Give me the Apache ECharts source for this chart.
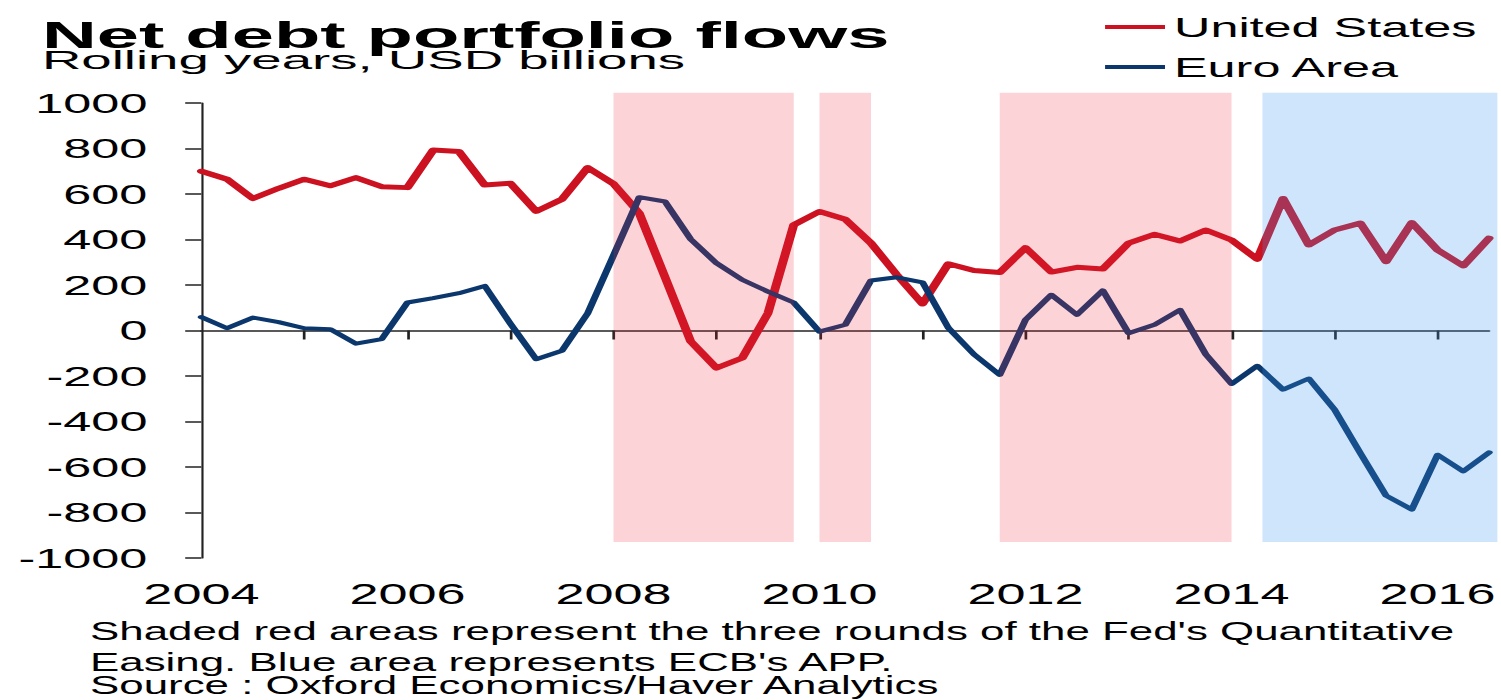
<!DOCTYPE html>
<html>
<head>
<meta charset="utf-8">
<title>Net debt portfolio flows</title>
<script src="https://cdn.jsdelivr.net/npm/echarts@6/dist/echarts.min.js"></script>
<style>
  html, body { margin: 0; padding: 0; background: #ffffff; }
  #frame { width: 1501px; height: 700px; overflow: hidden; }
  /* the chart is laid out on a narrower canvas and widened horizontally */
  #chart { width: 834px; height: 700px; transform: scaleX(1.7998); transform-origin: 0 0; }
</style>
</head>
<body>
<div id="frame"><div id="chart"></div></div>
<script>
// Quarterly observations, rolling four-quarter sums (USD billions)
const quarters = [
  '2004Q1','2004Q2','2004Q3','2004Q4','2005Q1','2005Q2','2005Q3','2005Q4',
  '2006Q1','2006Q2','2006Q3','2006Q4','2007Q1','2007Q2','2007Q3','2007Q4',
  '2008Q1','2008Q2','2008Q3','2008Q4','2009Q1','2009Q2','2009Q3','2009Q4',
  '2010Q1','2010Q2','2010Q3','2010Q4','2011Q1','2011Q2','2011Q3','2011Q4',
  '2012Q1','2012Q2','2012Q3','2012Q4','2013Q1','2013Q2','2013Q3','2013Q4',
  '2014Q1','2014Q2','2014Q3','2014Q4','2015Q1','2015Q2','2015Q3','2015Q4',
  '2016Q1','2016Q2','2016Q3'
];

const unitedStates = [
  700, 665, 580, 625, 665, 636, 672, 632,
  628, 793, 787, 640, 647, 524, 577, 716,
  645, 516, 235, -48, -165, -121, 76, 464,
  523, 489, 384, 245, 117, 293, 264, 255,
  364, 257, 278, 270, 384, 423, 393, 442,
  398, 313, 580, 376, 442, 472, 303, 474,
  354, 284, 406
];

const euroArea = [
  59, 10, 57, 37, 10, 6, -58, -38,
  123, 142, 164, 196, 30, -126, -89, 76,
  330, 586, 567, 401, 296, 223, 171, 123,
  -5, 25, 220, 234, 212, 12, -105, -195,
  47, 157, 69, 176, -12, 25, 91, -105,
  -235, -155, -260, -211, -348, -539, -726, -787,
  -546, -619, -536
];

// Policy periods, in fractional years: Fed QE rounds and the ECB asset purchase programme
const qeRounds = [[2008.0, 2009.75], [2010.0, 2010.5], [2011.75, 2014.0]];
const appPeriod = [[2014.3, 2016.58]];

const yearLabels = [2004, 2006, 2008, 2010, 2012, 2014, 2016];
const yearTicks = [2005, 2006, 2007, 2008, 2009, 2010, 2011, 2012, 2013, 2014, 2015, 2016];

const FONT = '"Liberation Sans", Arial, Helvetica, sans-serif';
const SHADE_TOP = 1045;
const SHADE_BOTTOM = -930;

const toYear = q => Number(q.slice(0, 4)) + (Number(q.slice(5)) - 1) / 4;
const pairUp = values => quarters.map((q, i) => [toYear(q), values[i]]);

function shadeRenderer(fill) {
  return function (params, api) {
    const a = api.coord([api.value(0), SHADE_TOP]);
    const b = api.coord([api.value(1), SHADE_BOTTOM]);
    return {
      type: 'rect',
      shape: { x: a[0], y: a[1], width: b[0] - a[0], height: b[1] - a[1] },
      style: { fill: fill }
    };
  };
}

const chart = echarts.init(document.getElementById('chart'), null, { renderer: 'svg' });

chart.setOption({
  animation: false,
  backgroundColor: '#ffffff',
  textStyle: { fontFamily: FONT },
  grid: { left: 111.9, right: 6.2, top: 103, bottom: 142, containLabel: false },
  legend: {
    data: ['United States', 'Euro Area'],
    orient: 'vertical',
    left: 614,
    top: 12,
    padding: 0,
    icon: 'rect',
    itemWidth: 33.3,
    itemHeight: 4,
    itemGap: 10,
    selectedMode: false,
    textStyle: { fontFamily: FONT, fontSize: 28, color: '#000', lineHeight: 30 }
  },
  graphic: [
    {
      type: 'text', x: 23.3, y: 35.5, scaleX: 1.14,
      style: { text: 'Net debt portfolio flows', fontFamily: FONT, fontSize: 37,
               fontWeight: 'bold', fill: '#000', align: 'left', verticalAlign: 'middle' }
    },
    {
      type: 'text', x: 23.3, y: 60, scaleX: 1.145,
      style: { text: 'Rolling years, USD billions', fontFamily: FONT, fontSize: 26.5,
               fill: '#000', align: 'left', verticalAlign: 'middle' }
    },
    {
      type: 'text', x: 50, y: 631, scaleX: 0.92,
      style: { text: "Shaded red areas represent the three rounds of the Fed's Quantitative",
               fontFamily: FONT, fontSize: 26.5, fill: '#000', align: 'left', verticalAlign: 'middle' }
    },
    {
      type: 'text', x: 50, y: 662, scaleX: 0.92,
      style: { text: "Easing. Blue area represents ECB's APP.",
               fontFamily: FONT, fontSize: 26.5, fill: '#000', align: 'left', verticalAlign: 'middle' }
    },
    {
      type: 'text', x: 50, y: 684.5, scaleX: 0.92,
      style: { text: 'Source : Oxford Economics/Haver Analytics',
               fontFamily: FONT, fontSize: 26.5, fill: '#000', align: 'left', verticalAlign: 'middle' }
    }
  ],
  xAxis: [
    {
      // year labels along the bottom of the plot
      type: 'value', min: 2004, max: 2016.5, position: 'bottom',
      axisLine: { show: false, onZero: false },
      axisTick: { show: false },
      splitLine: { show: false },
      axisLabel: {
        customValues: yearLabels,
        formatter: v => String(v),
        fontFamily: FONT, fontSize: 29, color: '#000', margin: 22
      }
    },
    {
      // axis line and yearly ticks drawn through zero
      type: 'value', min: 2004, max: 2016.5, position: 'bottom',
      axisLine: { show: true, onZero: true, lineStyle: { color: '#222', width: 1.5 } },
      axisTick: { show: true, customValues: yearTicks, length: 9, inside: false,
                  lineStyle: { color: '#222', width: 1.5 } },
      axisLabel: { show: false },
      splitLine: { show: false }
    }
  ],
  yAxis: {
    type: 'value', min: -1000, max: 1000, interval: 200,
    axisLine: { show: true, lineStyle: { color: '#222', width: 1.2 } },
    axisTick: { show: true, length: 9, inside: false, lineStyle: { color: '#222', width: 1.5 } },
    splitLine: { show: false },
    axisLabel: { formatter: v => String(v), fontFamily: FONT, fontSize: 28, color: '#000', margin: 30 }
  },
  series: [
    {
      name: 'United States', type: 'line', xAxisIndex: 0,
      data: pairUp(unitedStates),
      showSymbol: false, symbol: 'none', z: 2,
      color: '#cc1220',
      lineStyle: { width: 5, color: '#cc1220', join: 'round', cap: 'round' }
    },
    {
      name: 'Euro Area', type: 'line', xAxisIndex: 0,
      data: pairUp(euroArea),
      showSymbol: false, symbol: 'none', z: 2,
      color: '#0b376d',
      lineStyle: { width: 4, color: '#0b376d', join: 'round', cap: 'round' }
    },
    {
      name: 'Fed QE', type: 'custom', xAxisIndex: 0, z: 5, silent: true,
      renderItem: shadeRenderer('rgba(240, 40, 60, 0.2)'),
      encode: { x: [0, 1] },
      data: qeRounds
    },
    {
      name: 'ECB APP', type: 'custom', xAxisIndex: 0, z: 5, silent: true,
      renderItem: shadeRenderer('rgba(60, 150, 240, 0.25)'),
      encode: { x: [0, 1] },
      data: appPeriod
    }
  ]
});
</script>
</body>
</html>
